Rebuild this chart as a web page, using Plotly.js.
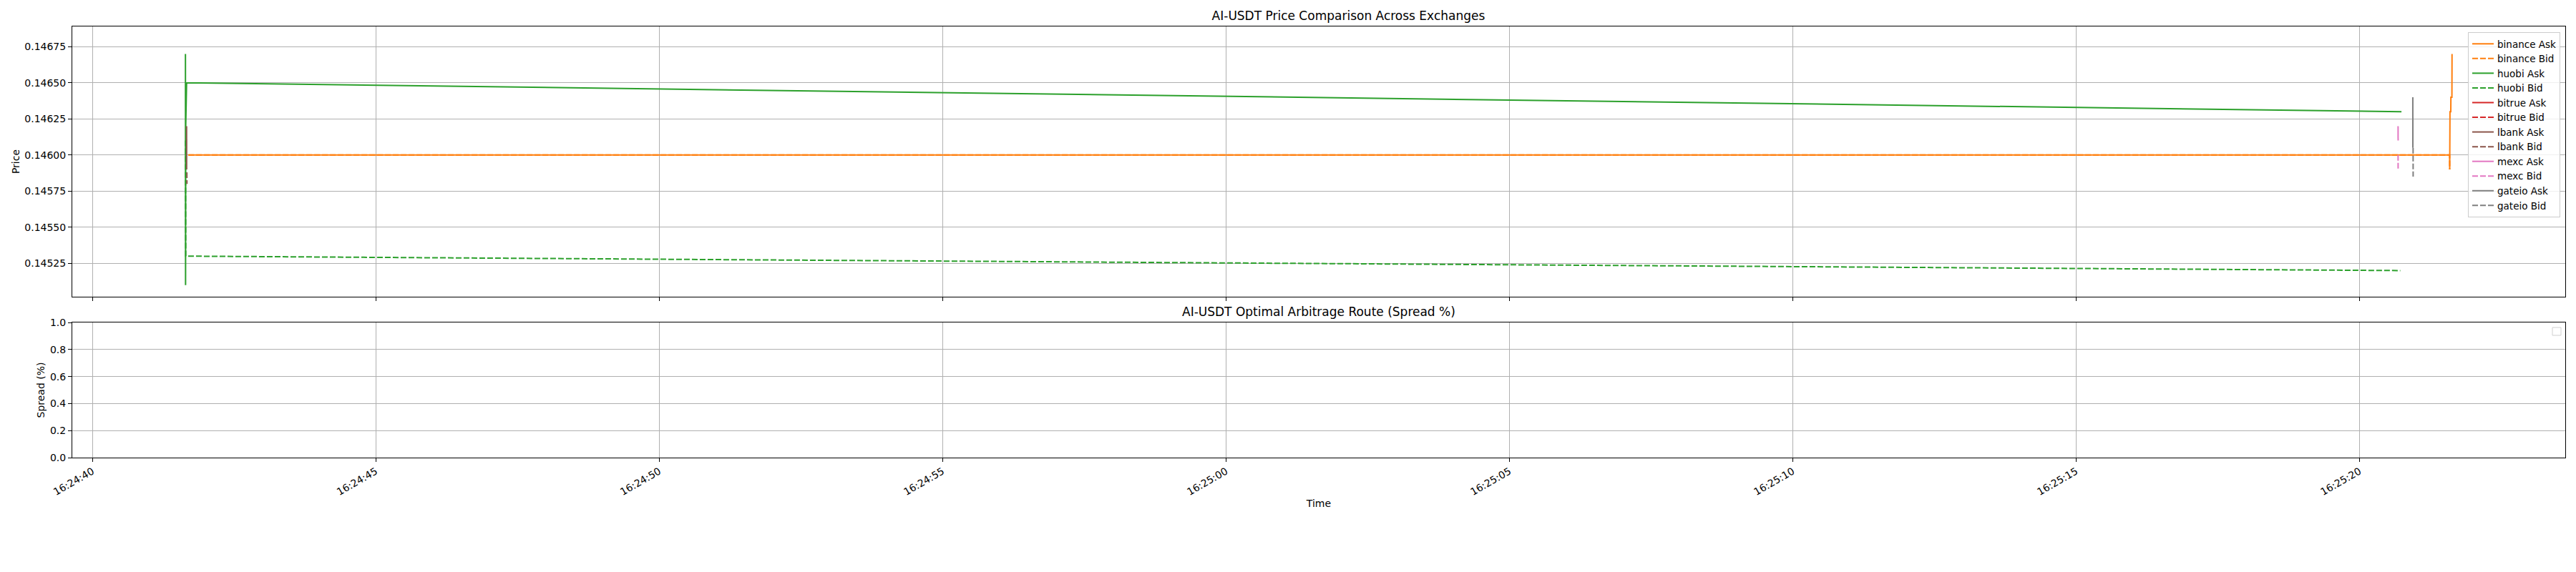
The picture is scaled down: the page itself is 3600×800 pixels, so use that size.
<!DOCTYPE html>
<html>
<head>
<meta charset="utf-8">
<script src="https://cdn.plot.ly/plotly-3.0.1.min.js"></script>
<style>html,body{margin:0;padding:0;background:#fff;}#chart{width:3600px;height:800px;}</style>
</head>
<body>
<div id="chart"></div>
<script>
// ---- data ----
const day = "2024-01-01 ";
const binanceAskTime = ["16:24:41.690", "16:25:21.590", "16:25:21.591", "16:25:21.596", "16:25:21.610", "16:25:21.612", "16:25:21.630", "16:25:21.632"];
const binanceAskPrice = [0.14600, 0.14600, 0.14590, 0.14630, 0.14630, 0.14640, 0.14640, 0.14670];
const binanceBidTime = ["16:24:41.690", "16:25:21.590", "16:25:21.591"];
const binanceBidPrice = [0.14600, 0.14600, 0.14590];
const huobiAskTime = ["16:24:41.640", "16:24:41.642", "16:24:41.645", "16:24:41.660", "16:25:20.740"];
const huobiAskPrice = [0.14670, 0.14510, 0.14620, 0.14650, 0.14630];
const huobiBidTime = ["16:24:41.640", "16:24:41.645", "16:24:41.660", "16:25:20.720"];
const huobiBidPrice = [0.14610, 0.14530, 0.14530, 0.14520];
const bitrueAskTime = [];
const bitrueAskPrice = [];
const bitrueBidTime = [];
const bitrueBidPrice = [];
const lbankAskTime = ["16:24:41.660", "16:24:41.661"];
const lbankAskPrice = [0.14620, 0.14590];
const lbankBidTime = ["16:24:41.665", "16:24:41.666"];
const lbankBidPrice = [0.14588, 0.14580];
const mexcAskTime = ["16:25:20.680", "16:25:20.681"];
const mexcAskPrice = [0.14620, 0.14610];
const mexcBidTime = ["16:25:20.680", "16:25:20.681"];
const mexcBidPrice = [0.14600, 0.14590];
const gateioAskTime = ["16:25:20.940", "16:25:20.941"];
const gateioAskPrice = [0.14640, 0.14605];
const gateioBidTime = ["16:25:20.945", "16:25:20.946"];
const gateioBidPrice = [0.14605, 0.14585];
const priceTicks = [0.14525, 0.14550, 0.14575, 0.14600, 0.14625, 0.14650, 0.14675];
const spreadTicks = [0.0, 0.2, 0.4, 0.6, 0.8, 1.0];
const spreadTickText = ["0.0", "0.2", "0.4", "0.6", "0.8", "1.0"];

const series = [
  ["binance Ask", binanceAskTime, binanceAskPrice, "#ff7f0e", "solid"],
  ["binance Bid", binanceBidTime, binanceBidPrice, "#ff7f0e", "dash"],
  ["huobi Ask", huobiAskTime, huobiAskPrice, "#2ca02c", "solid"],
  ["huobi Bid", huobiBidTime, huobiBidPrice, "#2ca02c", "dash"],
  ["bitrue Ask", bitrueAskTime, bitrueAskPrice, "#d62728", "solid"],
  ["bitrue Bid", bitrueBidTime, bitrueBidPrice, "#d62728", "dash"],
  ["lbank Ask", lbankAskTime, lbankAskPrice, "#8c564b", "solid"],
  ["lbank Bid", lbankBidTime, lbankBidPrice, "#8c564b", "dash"],
  ["mexc Ask", mexcAskTime, mexcAskPrice, "#e377c2", "solid"],
  ["mexc Bid", mexcBidTime, mexcBidPrice, "#e377c2", "dash"],
  ["gateio Ask", gateioAskTime, gateioAskPrice, "#7f7f7f", "solid"],
  ["gateio Bid", gateioBidTime, gateioBidPrice, "#7f7f7f", "dash"]
];

const traces = series.map(s => ({
  type: "scatter", mode: "lines", name: s[0],
  x: s[1].length ? s[1].map(t => day + t) : [null],
  y: s[2].length ? s[2] : [null],
  xaxis: "x", yaxis: "y",
  line: {color: s[3], width: 2, dash: s[4] === "dash" ? "8px,3px" : "solid"},
  showlegend: true
}));

const font = {family: "DejaVu Sans, sans-serif", size: 14, color: "#000"};
const W = 3600, H = 800;
const py = v => 1 - v / H;

const layout = {
  width: W, height: H,
  paper_bgcolor: "#fff", plot_bgcolor: "#fff",
  font: font,
  margin: {l: 101, r: 15, t: 37, b: 160, pad: 0},
  showlegend: true,
  title: {text: "AI-USDT Price Comparison Across Exchanges", font: {family: font.family, size: 17, color: "#000"},
          x: 0.5119, xanchor: "center", xref: "paper", y: py(22.5), yanchor: "middle", yref: "container"},
  legend: {x: (3578 - 101) / (3600 - 116), xanchor: "right", y: 1 - (45 - 37) / 603, yanchor: "top",
           bgcolor: "rgba(255,255,255,0.8)", bordercolor: "#cccccc", borderwidth: 1,
           font: {family: font.family, size: 13.5, color: "#000"}, tracegroupgap: 0, itemwidth: 30},
  xaxis: {
    type: "date", anchor: "y", domain: [0, 1],
    range: [day + "16:24:39.643", day + "16:25:23.630"],
    tick0: day + "16:24:40", dtick: 5000, tickformat: "%H:%M:%S",
    showticklabels: false, ticks: "outside", ticklen: 5, tickcolor: "#000",
    showgrid: true, gridcolor: "#b0b0b0", gridwidth: 1,
    showline: true, linecolor: "#000", linewidth: 1, mirror: true, zeroline: false
  },
  yaxis: {
    anchor: "x", domain: [(640 - 415) / 603, 1],
    range: [0.145019, 0.14689],
    tickmode: "array", tickvals: priceTicks, ticktext: priceTicks.map(v => v.toFixed(5)),
    ticks: "outside", ticklen: 5, tickcolor: "#000",
    showgrid: true, gridcolor: "#b0b0b0", gridwidth: 1,
    showline: true, linecolor: "#000", linewidth: 1, mirror: true, zeroline: false,
    title: {text: "Price", font: {family: font.family, size: 14, color: "#000"}, standoff: 3}
  },
  xaxis2: {
    type: "date", anchor: "y2", domain: [0, 1], matches: "x",
    range: [day + "16:24:39.643", day + "16:25:23.630"],
    tick0: day + "16:24:40", dtick: 5000, tickformat: "%H:%M:%S", tickangle: -30,
    ticks: "outside", ticklen: 5, tickcolor: "#000",
    showgrid: true, gridcolor: "#b0b0b0", gridwidth: 1,
    showline: true, linecolor: "#000", linewidth: 1, mirror: true, zeroline: false,
    title: {text: "Time", font: {family: font.family, size: 14, color: "#000"}, standoff: 4}
  },
  yaxis2: {
    anchor: "x2", domain: [0, (640 - 451) / 603],
    range: [0, 1],
    tickmode: "array", tickvals: spreadTicks, ticktext: spreadTickText,
    ticks: "outside", ticklen: 5, tickcolor: "#000",
    showgrid: true, gridcolor: "#b0b0b0", gridwidth: 1,
    showline: true, linecolor: "#000", linewidth: 1, mirror: true, zeroline: false,
    title: {text: "Spread (%)", font: {family: font.family, size: 14, color: "#000"}, standoff: 4}
  },
  annotations: [{
    text: "AI-USDT Optimal Arbitrage Route (Spread %)", showarrow: false,
    xref: "paper", yref: "paper", x: 0.5, xanchor: "center",
    y: (640 - 436) / 603, yanchor: "middle",
    font: {family: font.family, size: 17, color: "#000"}
  }],
  shapes: [{
    type: "rect", xref: "paper", yref: "paper",
    x0: (3567 - 101) / 3484, x1: (3579 - 101) / 3484,
    y0: (640 - 469) / 603, y1: (640 - 458) / 603,
    line: {color: "#d0d0d0", width: 1}, fillcolor: "rgba(255,255,255,0.8)"
  }]
};

// empty spread trace so the second subplot exists
traces.push({type: "scatter", mode: "lines", x: [null], y: [null], xaxis: "x2", yaxis: "y2", showlegend: false, hoverinfo: "skip"});

Plotly.newPlot("chart", traces, layout, {staticPlot: true, displayModeBar: false});
</script>
</body>
</html>
